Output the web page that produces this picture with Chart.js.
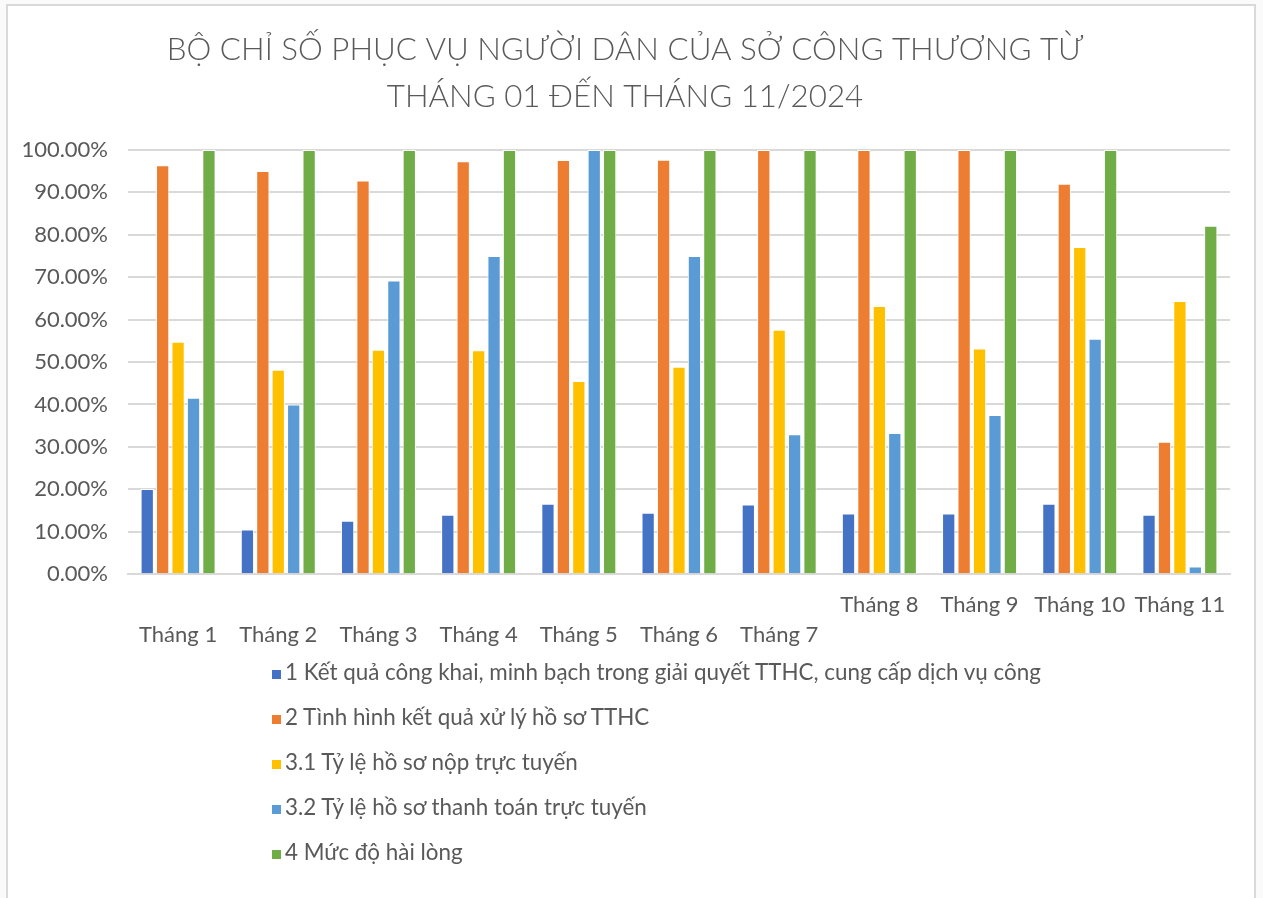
<!DOCTYPE html>
<html>
<head>
<meta charset="utf-8">
<script src="https://cdn.jsdelivr.net/npm/chart.js@4/dist/chart.umd.min.js"></script>
<style>
  html, body { margin: 0; padding: 0; background: #fafafa; }
  #wrap { position: relative; width: 1263px; height: 898px; }
  #frame { position: absolute; left: 6px; top: 4px; width: 1250px; height: 900px;
           border: 2px solid #d9d9d9; background: #fff; box-sizing: border-box; }
  #myChart { position: absolute; left: 0; top: 0; }
  #legend { position: absolute; left: 272px; top: 655px; font-family: Lato, "Noto Sans", sans-serif;
            font-size: 22.4px; color: #595959; }
  #legend .item { height: 45px; line-height: 34px; white-space: nowrap; }
  #legend .box { display: inline-block; width: 9px; height: 9px; margin-right: 4px; vertical-align: 1px; }
</style>
</head>
<body>
<div id="wrap">
  <div id="frame"></div>
  <canvas id="myChart" width="1263" height="898"></canvas>
  <div id="legend"></div>
</div>
<script>
const categories = ['Tháng 1', 'Tháng 2', 'Tháng 3', 'Tháng 4', 'Tháng 5', 'Tháng 6',
                    'Tháng 7', 'Tháng 8', 'Tháng 9', 'Tháng 10', 'Tháng 11'];

const seriesNames = [
    '1 Kết quả công khai, minh bạch trong giải quyết TTHC, cung cấp dịch vụ công',
    '2 Tình hình kết quả xử lý hồ sơ TTHC',
    '3.1 Tỷ lệ hồ sơ nộp trực tuyến',
    '3.2 Tỷ lệ hồ sơ thanh toán trực tuyến',
    '4 Mức độ hài lòng'
];

const congKhai    = [20.1, 10.5, 12.6, 14.0, 16.6, 14.5, 16.4, 14.3, 14.3, 16.6, 14.0];
const xuLyHoSo    = [96.4, 95.0, 92.8, 97.3, 97.6, 97.7, 100, 100, 100, 92.0, 31.2];
const nopTrucTuyen = [54.8, 48.2, 52.9, 52.8, 45.5, 48.9, 57.6, 63.2, 53.2, 77.1, 64.4];
const thanhToan   = [41.6, 40.0, 69.2, 75.0, 100, 75.0, 33.0, 33.3, 37.5, 55.5, 1.8];
const haiLong     = [100, 100, 100, 100, 100, 100, 100, 100, 100, 100, 82.1];

const colors = ['#4472C4', '#ED7D31', '#FFC000', '#5B9BD5', '#70AD47'];
const allSeries = [congKhai, xuLyHoSo, nopTrucTuyen, thanhToan, haiLong];

const txt = '#595959';
const font = 'Lato, "Noto Sans", sans-serif';

const ctx = document.getElementById('myChart').getContext('2d');
const chart = new Chart(ctx, {
    type: 'bar',
    data: {
        labels: categories,
        datasets: allSeries.map((d, i) => ({
            label: seriesNames[i],
            data: d,
            backgroundColor: colors[i],
            borderColor: '#ffffff',
            borderWidth: 1,
            barPercentage: 0.86,
            categoryPercentage: 0.77
        }))
    },
    options: {
        responsive: false,
        animation: false,
        layout: { padding: { left: 20, right: 33, top: 26, bottom: 240 } },
        plugins: {
            legend: { display: false },
            tooltip: { enabled: false },
            title: {
                display: true,
                text: ['BỘ CHỈ SỐ PHỤC VỤ NGƯỜI DÂN CỦA SỞ CÔNG THƯƠNG TỪ', 'THÁNG 01 ĐẾN THÁNG 11/2024'],
                color: txt,
                font: { family: font, size: 31.3, weight: 300, lineHeight: 1.5 },
                padding: { top: 0, bottom: 30 }
            }
        },
        scales: {
            x: {
                grid: { display: false },
                border: { color: '#d9d9d9', width: 2 },
                ticks: {
                    color: txt,
                    font: { family: font, size: 22, lineHeight: 1.36 },
                    maxRotation: 0,
                    autoSkip: false,
                    padding: 8,
                    // Excel staggered the first seven labels onto a second row
                    callback: function (v, i) { return i < 7 ? ['', categories[i]] : categories[i]; }
                }
            },
            y: {
                min: 0,
                max: 100,
                grid: { color: '#d9d9d9', lineWidth: 2, drawTicks: false },
                border: { display: false },
                ticks: {
                    stepSize: 10,
                    color: txt,
                    font: { family: font, size: 22 },
                    padding: 20,
                    callback: v => v.toFixed(2) + '%'
                },
                afterFit: s => { s.width = 108; }
            }
        }
    }
});

// legend as one column below the chart, like the original
const legend = document.getElementById('legend');
chart.data.datasets.forEach(ds => {
    const row = document.createElement('div');
    row.className = 'item';
    const box = document.createElement('span');
    box.className = 'box';
    box.style.background = ds.backgroundColor;
    row.appendChild(box);
    row.appendChild(document.createTextNode(ds.label));
    legend.appendChild(row);
});
</script>
</body>
</html>
